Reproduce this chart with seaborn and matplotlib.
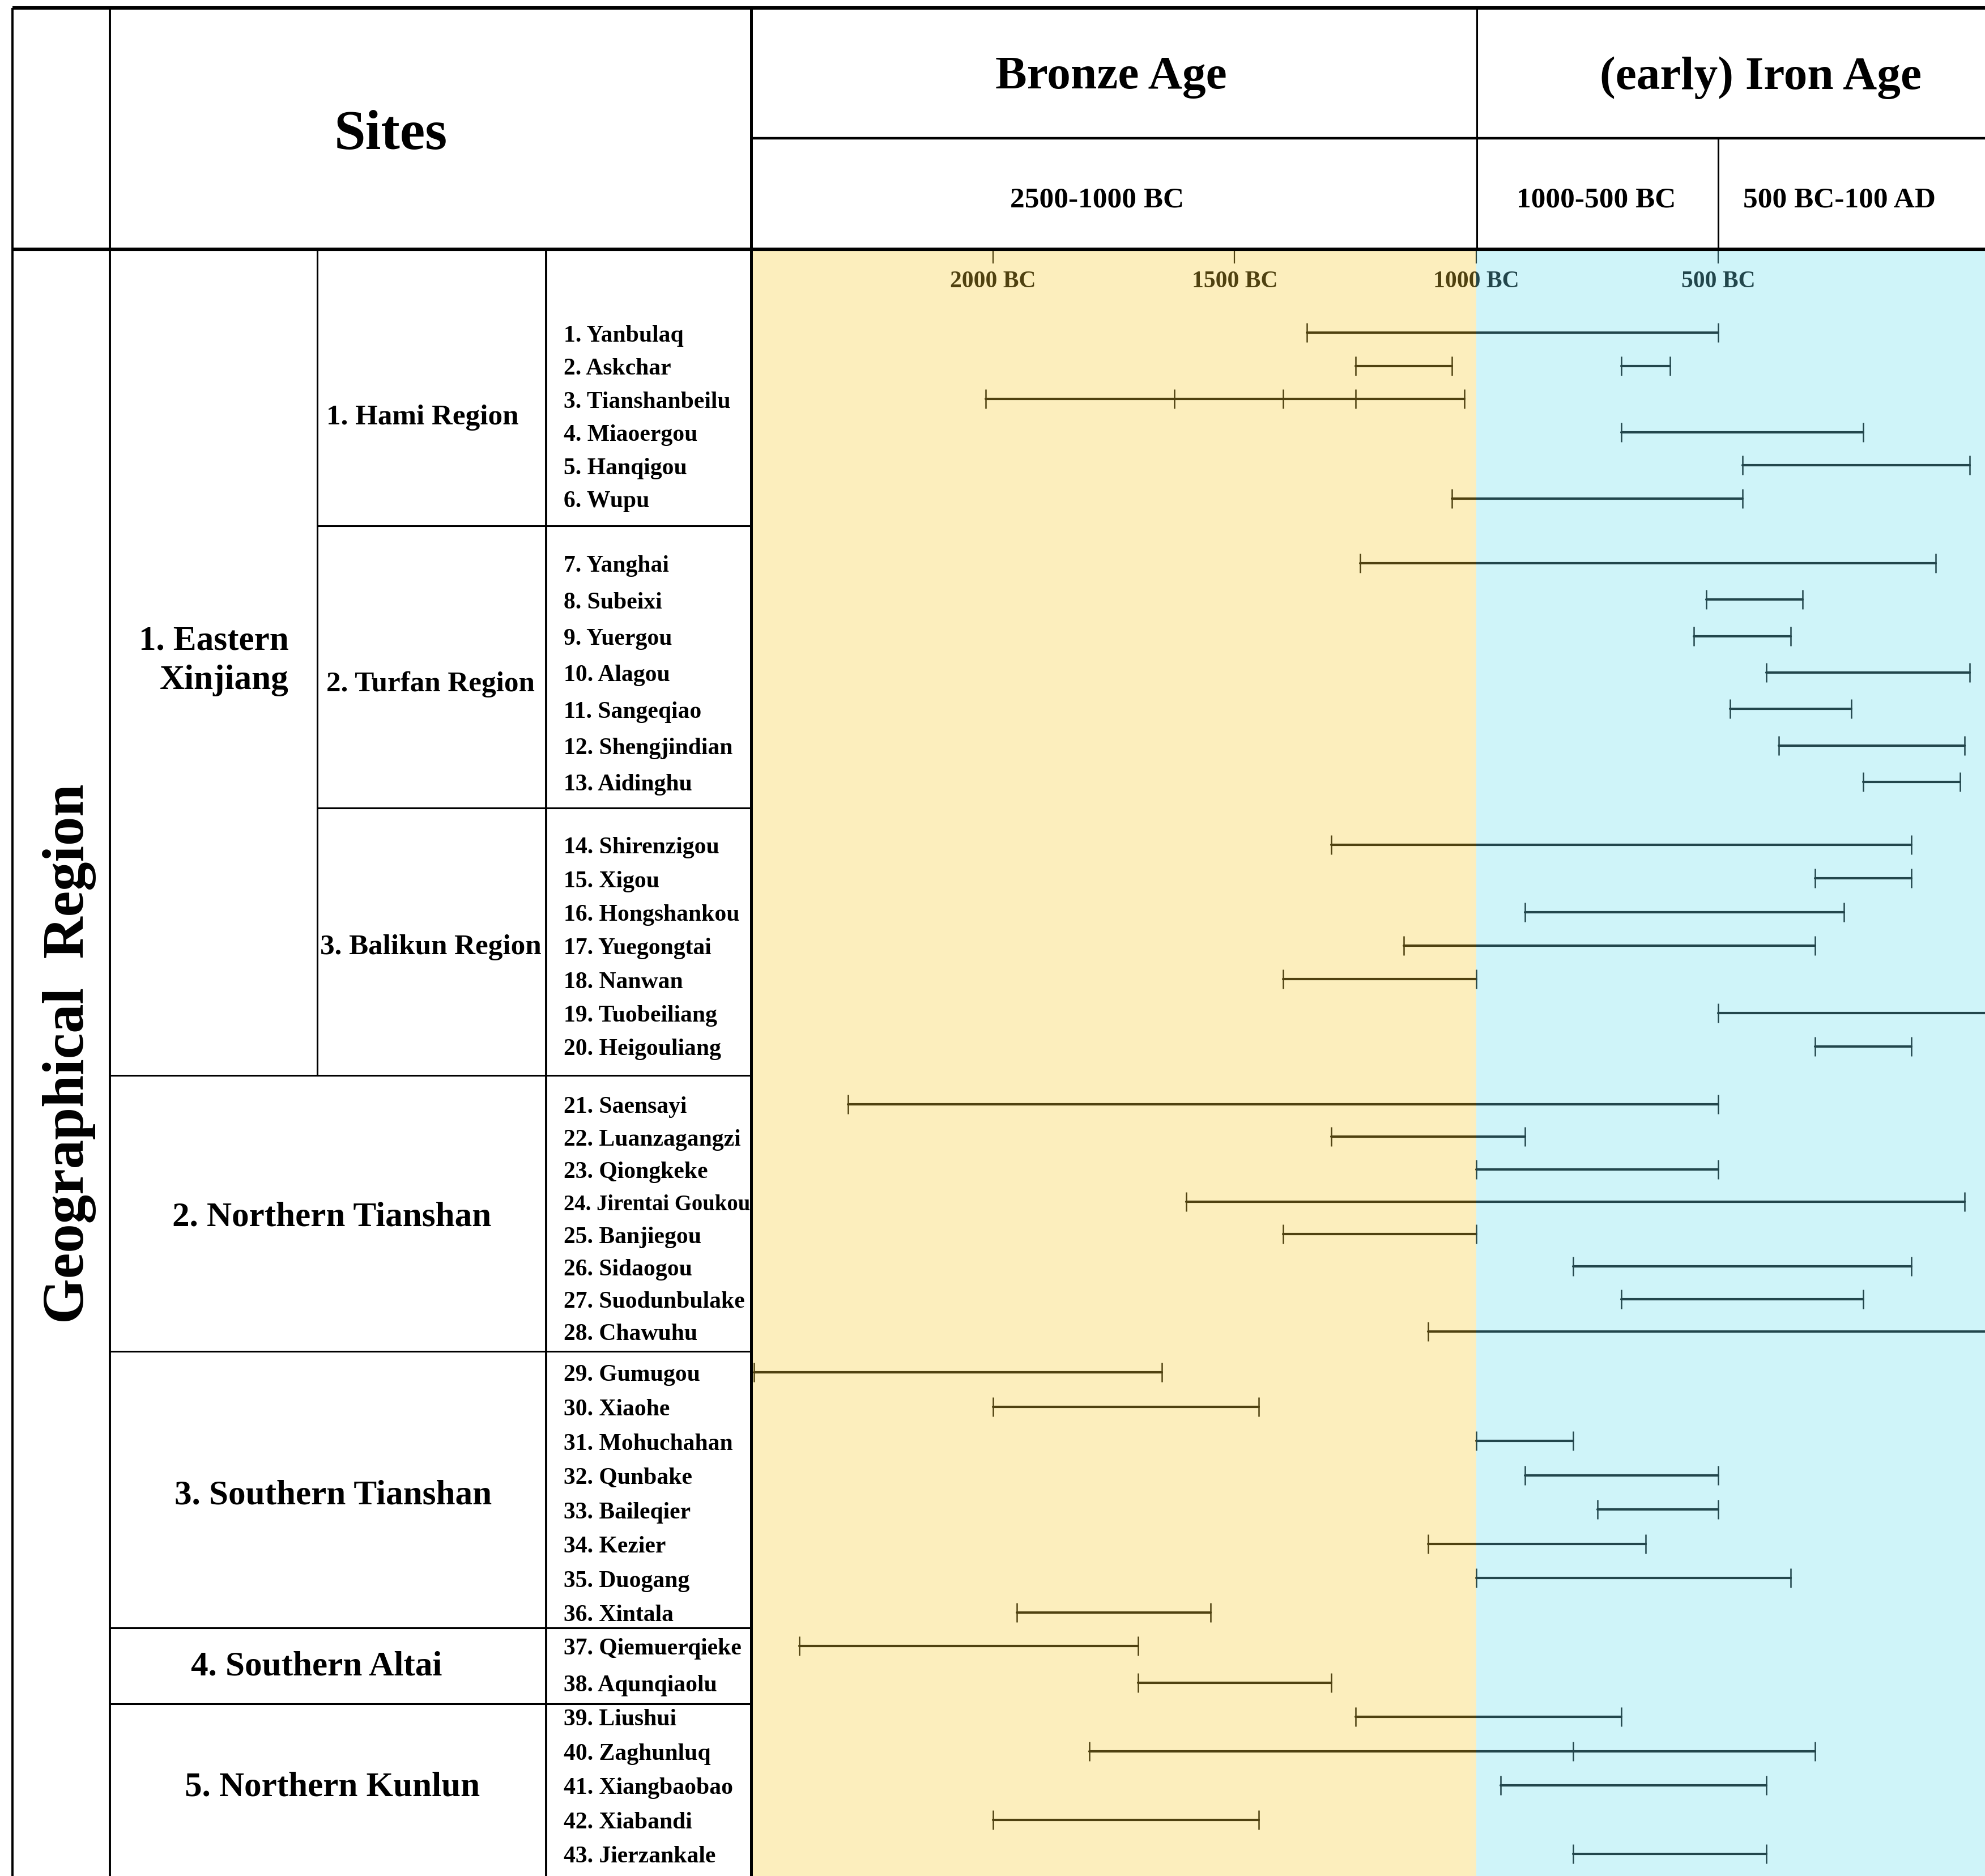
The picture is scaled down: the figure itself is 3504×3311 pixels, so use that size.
import numpy as np
import pandas as pd
import matplotlib
matplotlib.use("Agg")
import matplotlib.pyplot as plt
import seaborn as sns

# --- Data: sites per region and their date spans (years, negative = BC) ---
hami_sites = ["1. Yanbulaq", "2. Askchar", "3. Tianshanbeilu", "4. Miaoergou",
              "5. Hanqigou", "6. Wupu"]
hami_periods = [[[-1350, -500]], [[-1250, -1050], [-700, -600]],
                [[-2015, -1625, -1400, -1250, -1025]], [[-700, -200]],
                [[-450, 20]], [[-1050, -450]]]

turfan_sites = ["7. Yanghai", "8. Subeixi", "9. Yuergou", "10. Alagou",
                "11. Sangeqiao", "12. Shengjindian", "13. Aidinghu"]
turfan_periods = [[[-1240, -50]], [[-525, -325]], [[-550, -350]], [[-400, 20]],
                  [[-475, -225]], [[-375, 10]], [[-200, 0]]]

balikun_sites = ["14. Shirenzigou", "15. Xigou", "16. Hongshankou", "17. Yuegongtai",
                 "18. Nanwan", "19. Tuobeiliang", "20. Heigouliang"]
balikun_periods = [[[-1300, -100]], [[-300, -100]], [[-900, -240]], [[-1150, -300]],
                   [[-1400, -1000]], [[-500, 100]], [[-300, -100]]]

ntian_sites = ["21. Saensayi", "22. Luanzagangzi", "23. Qiongkeke", "24. Jirentai Goukou",
               "25. Banjiegou", "26. Sidaogou", "27. Suodunbulake", "28. Chawuhu"]
ntian_periods = [[[-2300, -500]], [[-1300, -900]], [[-1000, -500]], [[-1600, 10]],
                 [[-1400, -1000]], [[-800, -100]], [[-700, -200]], [[-1100, 100]]]

stian_sites = ["29. Gumugou", "30. Xiaohe", "31. Mohuchahan", "32. Qunbake",
               "33. Baileqier", "34. Kezier", "35. Duogang", "36. Xintala"]
stian_periods = [[[-2494, -1650]], [[-2000, -1450]], [[-1000, -800]], [[-900, -500]],
                 [[-750, -500]], [[-1100, -650]], [[-1000, -350]], [[-1950, -1550]]]

altai_sites = ["37. Qiemuerqieke", "38. Aqunqiaolu"]
altai_periods = [[[-2400, -1700]], [[-1700, -1300]]]

kunlun_sites = ["39. Liushui", "40. Zaghunluq", "41. Xiangbaobao", "42. Xiabandi",
                "43. Jierzankale"]
kunlun_periods = [[[-1250, -700]], [[-1800, -800, -300]], [[-950, -400]],
                  [[-2000, -1450]], [[-800, -400]]]

region_names = ["1. Hami Region", "2. Turfan Region", "3. Balikun Region",
                "2. Northern Tianshan", "3. Southern Tianshan", "4. Southern Altai",
                "5. Northern Kunlun"]
top_region = "1. Eastern\nXinjiang"

age_names = ["Bronze Age", "(early) Iron Age"]
period_names = ["2500-1000 BC", "1000-500 BC", "500 BC-100 AD"]
tick_years = [-2000, -1500, -1000, -500]
tick_labels = ["2000 BC", "1500 BC", "1000 BC", "500 BC"]
bronze_span = (-2500, -1000)
iron_span = (-1000, 200)

# --- Layout (pixels of the 3504 x 3312 canvas) ---
W, H = 3504, 3312
X_LEFT, X_GEO, X_SUB, X_SITE, X_CHART = 22, 194, 560, 964, 1326
X_1000, X_500 = 2607, 3033
Y_TOP, Y_MID, Y_HEAD = 15, 245, 441
group_bottom = [929, 1427, 1899, 2386, 2874, 3008, H]
first_row = [588, 995, 1492, 1950, 2423, 2906, 3031]
last_row = [881, 1381, 1848, 2351, 2847, 2971, 3273]
label_xy = [(746, 731), (760, 1202), (760, 1667), (586, 2142), (588, 2633),
            (559, 2935), (587, 3148)]

groups = [(hami_sites, hami_periods), (turfan_sites, turfan_periods),
          (balikun_sites, balikun_periods), (ntian_sites, ntian_periods),
          (stian_sites, stian_periods), (altai_sites, altai_periods),
          (kunlun_sites, kunlun_periods)]

# long table of breakpoints, one row per cap
records = []
site_rows = []
for g, (names, periods) in enumerate(groups):
    ys = np.linspace(first_row[g], last_row[g], len(names))
    for name, segs, y in zip(names, periods, ys):
        site_rows.append((name, y))
        for k, seg in enumerate(segs):
            for yr in seg:
                records.append({"site": name, "seg": f"{name}/{k}", "year": yr, "y": y})
df = pd.DataFrame(records)

# --- Style ---
sns.set_theme(style="white")
plt.rcParams["font.family"] = ["Liberation Serif", "DejaVu Serif"]
plt.rcParams["font.weight"] = "bold"
plt.rcParams["text.color"] = "black"
plt.rcParams["xtick.color"] = "black"
plt.rcParams["axes.labelcolor"] = "black"

fig = plt.figure(figsize=(W / 200, H / 200), dpi=200)
ax = fig.add_axes([X_CHART / W, 0, 1 - X_CHART / W, 1 - Y_HEAD / H])
tab = fig.add_axes([0, 0, 1, 1], zorder=5)
tab.set_xlim(0, W)
tab.set_ylim(H, 0)
tab.axis("off")

# --- Timeline panel ---
sns.lineplot(data=df, x="year", y="y", units="seg", estimator=None, sort=False,
             color="black", linewidth=1.5, ax=ax, legend=False)
sns.scatterplot(data=df, x="year", y="y", marker="|", s=150, color="black",
                linewidth=0.9, ax=ax, legend=False, zorder=3)

# translucent age bands laid over the marks
ax.axvspan(*bronze_span, color="#F6CD34", alpha=0.32, lw=0, zorder=10)
ax.axvspan(*iron_span, color="#6CDDEF", alpha=0.32, lw=0, zorder=10)

ax.set_xlim(-2500, 52)
ax.set_ylim(H, Y_HEAD)
ax.set_xticks(tick_years, tick_labels)
ax.xaxis.tick_top()
ax.tick_params(axis="x", top=True, bottom=False, direction="in", length=9,
               width=0.8, color="black", labelcolor="black", pad=-27, labelsize=15)
ax.set_yticks([])
ax.set_xlabel("")
ax.set_ylabel("")
for sp in ax.spines.values():
    sp.set_visible(False)

# --- Table grid ---
tab.hlines([Y_TOP, Y_HEAD], X_LEFT, W, color="black", lw=2.2)
tab.hlines(Y_MID, X_CHART, W, color="black", lw=1.6)
tab.hlines(group_bottom[:2], X_SUB, X_CHART, color="black", lw=1.1)
tab.hlines(group_bottom[2:6], X_GEO, X_CHART, color="black", lw=1.1)
tab.vlines([X_LEFT, X_GEO, X_SITE], [Y_TOP, Y_TOP, Y_HEAD], H, color="black", lw=1.4)
tab.vlines(X_SUB, Y_HEAD, group_bottom[2], color="black", lw=1.1)
tab.vlines(X_CHART, Y_TOP, H, color="black", lw=1.8)
tab.vlines(X_1000, Y_TOP, Y_HEAD, color="black", lw=1.1)
tab.vlines(X_500, Y_MID, Y_HEAD, color="black", lw=1.1)

# --- Header text ---
tab.text(690, 228, "Sites", fontsize=36, ha="center", va="center_baseline")
tab.text(1961, 128, age_names[0], fontsize=30, ha="center", va="center_baseline")
tab.text(3108, 128, age_names[1], fontsize=30, ha="center", va="center_baseline")
for x, lab in zip([1937, 2818, 3247], period_names):
    tab.text(x, 348, lab, fontsize=18.5, ha="center", va="center_baseline")

tab.text(147, 1860, "Geographical  Region", fontsize=37, rotation=90,
         rotation_mode="anchor", ha="center", va="baseline")

# --- Region labels ---
tab.text(377, 1166, top_region, fontsize=22, ha="center", va="center",
         multialignment="right", linespacing=1.32)
for i, (name, (x, y)) in enumerate(zip(region_names, label_xy)):
    tab.text(x, y, name, fontsize=18.4 if i < 3 else 22, ha="center",
             va="center_baseline")

# --- Site labels ---
for name, y in site_rows:
    fs = 13.9 if len(name) > 17 else 15
    tab.text(995, y, name, fontsize=fs, ha="left", va="center_baseline")

fig.savefig("out.png", dpi=200)
